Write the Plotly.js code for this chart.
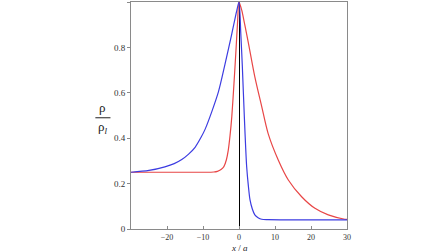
<!DOCTYPE html>
<html>
<head>
<meta charset="utf-8">
<script src="https://cdn.plot.ly/plotly-3.0.1.min.js"></script>
<style>html,body{margin:0;padding:0;background:#fff;}#chart{width:448px;height:252px;}</style>
</head>
<body>
<div id="chart"></div>
<script>
const blueX = [-30, -25, -20.6, -18, -15.9, -14, -12.2, -10.5, -9.4, -7.6, -5.7, -3.9, -2.0, -0.65, 0, 0.5, 0.93, 1.48, 2.13, 2.6, 3.06, 3.7, 4.4, 5.3, 6.3, 8, 15, 30];
const blueY = [0.25, 0.258, 0.274, 0.288, 0.306, 0.33, 0.36, 0.405, 0.44, 0.515, 0.605, 0.725, 0.86, 0.96, 1.0, 0.86, 0.715, 0.495, 0.274, 0.19, 0.128, 0.088, 0.062, 0.05, 0.043, 0.041, 0.04, 0.04];
const redX = [-30, -20, -10, -7, -6, -5, -4.2, -3.5, -3, -2.5, -2, -1.4, -0.83, -0.37, 0, 0.74, 1.6, 2.6, 4.4, 6.3, 8.1, 10.9, 13.7, 17.4, 21.1, 24.8, 29.4, 30];
const redY = [0.25, 0.25, 0.25, 0.251, 0.254, 0.262, 0.275, 0.305, 0.345, 0.41, 0.495, 0.64, 0.79, 0.92, 1.0, 0.965, 0.9, 0.82, 0.67, 0.54, 0.42, 0.304, 0.216, 0.142, 0.091, 0.062, 0.043, 0.042];
const xTicks = [-20, -10, 0, 10, 20, 30];
const yTicks = [0, 0.2, 0.4, 0.6, 0.8, 1];

const serif = 'Liberation Serif';
const data = [
  {x: redX, y: redY, mode: 'lines', line: {color: 'rgb(232,70,70)', width: 1.2, shape: 'spline', smoothing: 0.8}, hoverinfo: 'skip'},
  {x: blueX, y: blueY, mode: 'lines', line: {color: 'rgb(60,60,225)', width: 1.2, shape: 'spline', smoothing: 0.8}, hoverinfo: 'skip'}
];
const axisCommon = {
  showline: true, mirror: true, linecolor: '#8a8a8a', linewidth: 1,
  ticks: 'outside', ticklen: 3, tickcolor: '#8a8a8a',
  showgrid: false, tickfont: {family: serif, size: 9, color: '#333'}
};
const layout = {
  width: 448, height: 252,
  margin: {l: 131, r: 101, t: 2, b: 23},
  paper_bgcolor: '#fff', plot_bgcolor: '#fff',
  showlegend: false,
  xaxis: Object.assign({}, axisCommon, {
    range: [-30, 30], tickvals: xTicks, ticks: 'inside', ticklen: 3,
    tickfont: {family: serif, size: 8, color: '#333'},
    zeroline: true, zerolinecolor: '#000', zerolinewidth: 1
  }),
  yaxis: Object.assign({}, axisCommon, {
    range: [0, 1], tickvals: yTicks, zeroline: false
  }),
  annotations: [
    {xref: 'paper', yref: 'paper', x: 0.5, y: -0.083, text: '<i>x</i> / <i>a</i>', showarrow: false, font: {family: serif, size: 9, color: '#222'}, xanchor: 'center', yanchor: 'middle', borderpad: 0},
    {xref: 'paper', yref: 'paper', x: -0.13, y: 0.535, text: 'ρ', showarrow: false, font: {family: serif, size: 13, color: '#222'}, xanchor: 'center', yanchor: 'middle'},
    {xref: 'paper', yref: 'paper', x: -0.13, y: 0.445, text: 'ρ<sub><i>l</i></sub>', showarrow: false, font: {family: serif, size: 13, color: '#222'}, xanchor: 'center', yanchor: 'middle'}
  ],
  shapes: [
    {type: 'line', xref: 'paper', yref: 'paper', x0: -0.165, x1: -0.095, y0: 0.49, y1: 0.49, line: {color: '#222', width: 1}}
  ]
};
Plotly.newPlot('chart', data, layout, {staticPlot: true, displayModeBar: false});
</script>
</body>
</html>
